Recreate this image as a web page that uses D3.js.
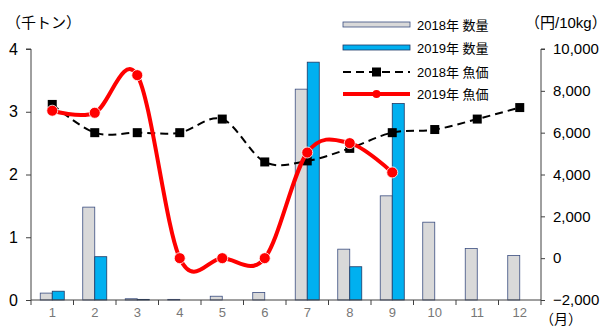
<!DOCTYPE html>
<html><head><meta charset="utf-8">
<script src="https://cdn.jsdelivr.net/npm/d3@7"></script>
<style>
html,body{margin:0;padding:0;background:#fff;}
text{font-family:"Liberation Sans","Noto Sans CJK JP",sans-serif;}
</style></head>
<body>
<svg id="chart" width="610" height="327"></svg>
<script>
const months = ["1","2","3","4","5","6","7","8","9","10","11","12"];
const qty2018 = [0.11,1.48,0.02,0.01,0.06,0.12,3.36,0.81,1.66,1.24,0.82,0.71];
const qty2019 = [0.14,0.69,0.01,0,0,0,3.79,0.53,3.13,null,null,null];
const price2018 = [7350,6000,6000,6000,6650,4600,4650,5250,6000,6150,6650,7200];
const price2019 = [7050,6950,8750,0,0,0,5050,5500,4100];
const leftTicks = [0,1,2,3,4];
const rightTicks = [-2000,0,2000,4000,6000,8000,10000];
const legendLabels = ["2018年 数量","2019年 数量","2018年 魚価","2019年 魚価"];

const svg = d3.select("#chart");
const L = 31, R = 541, T = 49, B = 300;
const axisColor = "#404040";

const x = d3.scaleBand().domain(months).range([L, R]);
const xs = d3.scaleBand().domain([0,1]).range([0, x.bandwidth()]).paddingOuter(0.77).paddingInner(0);
const yL = d3.scaleLinear().domain([0,4]).range([B, T]);
const yR = d3.scaleLinear().domain([-2000,10000]).range([B, T]);

// bars
const series = [
  {vals: qty2018, fill: "#d9d9d9", stroke: "#3b4e80"},
  {vals: qty2019, fill: "#00b0f0", stroke: "#1f3864"}
];
series.forEach((s, i) => {
  svg.append("g").selectAll("rect")
    .data(months.map((m, j) => ({m, v: s.vals[j]})).filter(d => d.v != null && d.v > 0))
    .join("rect")
    .attr("x", d => x(d.m) + xs(i))
    .attr("y", d => yL(d.v))
    .attr("width", xs.bandwidth())
    .attr("height", d => B - yL(d.v))
    .attr("fill", s.fill)
    .attr("stroke", s.stroke)
    .attr("stroke-width", 0.8);
});

// axes
const gL = svg.append("g").attr("transform", `translate(${L},0)`)
  .call(d3.axisLeft(yL).tickValues(leftTicks).tickSize(5).tickPadding(8).tickFormat(d3.format("d")));
const gR = svg.append("g").attr("transform", `translate(${R},0)`)
  .call(d3.axisRight(yR).tickValues(rightTicks).tickSize(4).tickPadding(8).tickFormat(d3.format(",")));
const gB = svg.append("g").attr("transform", `translate(0,${B})`)
  .call(d3.axisBottom(x).tickSize(0).tickPadding(8));
// tick marks at band boundaries
gB.append("g").selectAll("line")
  .data(d3.range(months.length + 1))
  .join("line")
  .attr("x1", i => L + i * x.step()).attr("x2", i => L + i * x.step())
  .attr("y1", 0).attr("y2", 5)
  .attr("stroke", axisColor);

[gL, gR, gB].forEach(g => {
  g.select(".domain").attr("stroke", axisColor).attr("stroke-width", 1);
  g.selectAll(".tick line").attr("stroke", axisColor);
});
gL.select(".domain").attr("d", `M-5,${T}H0V${B}`);
gR.select(".domain").attr("d", `M4,${T}H0V${B}`);
gB.select(".domain").attr("d", `M${L},0H${R}`);
gL.selectAll(".tick text").attr("font-size", 16).attr("fill", "#000");
gR.selectAll(".tick text").attr("font-size", 15).attr("fill", "#000");
gB.selectAll(".tick text").attr("font-size", 13).attr("fill", "#777");

// price lines
const curve = d3.curveCardinal.tension(0);
const priceLine = d3.line().x((d, i) => x(months[i]) + x.bandwidth()/2).y(d => yR(d)).curve(curve);
svg.append("path").datum(price2018).attr("d", priceLine)
  .attr("fill", "none").attr("stroke", "#000").attr("stroke-width", 2)
  .attr("stroke-dasharray", "8,5");
svg.append("g").selectAll("rect").data(price2018).join("rect")
  .attr("x", (d, i) => x(months[i]) + x.bandwidth()/2 - 4.5)
  .attr("y", d => yR(d) - 4.5)
  .attr("width", 9).attr("height", 9).attr("fill", "#000");

svg.append("path").datum(price2019).attr("d", priceLine)
  .attr("fill", "none").attr("stroke", "#ff0000").attr("stroke-width", 4);
svg.append("g").selectAll("circle").data(price2019).join("circle")
  .attr("cx", (d, i) => x(months[i]) + x.bandwidth()/2)
  .attr("cy", d => yR(d))
  .attr("r", 5.5).attr("fill", "#ff0000").attr("stroke", "#fff").attr("stroke-width", 0.8);

// titles
svg.append("text").attr("x", 6).attr("y", 28).attr("font-size", 15).text("（千トン）");
svg.append("text").attr("x", 525).attr("y", 28).attr("font-size", 15).text("（円/10kg）");
svg.append("text").attr("x", 540).attr("y", 324).attr("font-size", 14).text("（月）");

// legend
const lg = svg.append("g");
const lx0 = 343, lx1 = 410;
const ly = [25, 48, 72, 94];
lg.append("rect").attr("x", lx0).attr("y", ly[0] - 3).attr("width", lx1 - lx0).attr("height", 5)
  .attr("fill", "#d9d9d9").attr("stroke", "#3b4e80").attr("stroke-width", 0.8);
lg.append("rect").attr("x", lx0).attr("y", ly[1] - 3).attr("width", lx1 - lx0).attr("height", 5)
  .attr("fill", "#00b0f0").attr("stroke", "#1f3864").attr("stroke-width", 0.8);
lg.append("line").attr("x1", lx0).attr("x2", lx1).attr("y1", ly[2]).attr("y2", ly[2])
  .attr("stroke", "#000").attr("stroke-width", 2).attr("stroke-dasharray", "8,5");
lg.append("rect").attr("x", (lx0+lx1)/2 - 4.5).attr("y", ly[2] - 4.5).attr("width", 9).attr("height", 9).attr("fill", "#000");
lg.append("line").attr("x1", lx0).attr("x2", lx1).attr("y1", ly[3]).attr("y2", ly[3])
  .attr("stroke", "#ff0000").attr("stroke-width", 4);
lg.append("circle").attr("cx", (lx0+lx1)/2).attr("cy", ly[3]).attr("r", 4).attr("fill", "#ff0000");
lg.selectAll("text").data(legendLabels).join("text")
  .attr("x", 417).attr("y", (d, i) => ly[i] + 5)
  .attr("font-size", 13).text(d => d);
</script>
</body></html>
